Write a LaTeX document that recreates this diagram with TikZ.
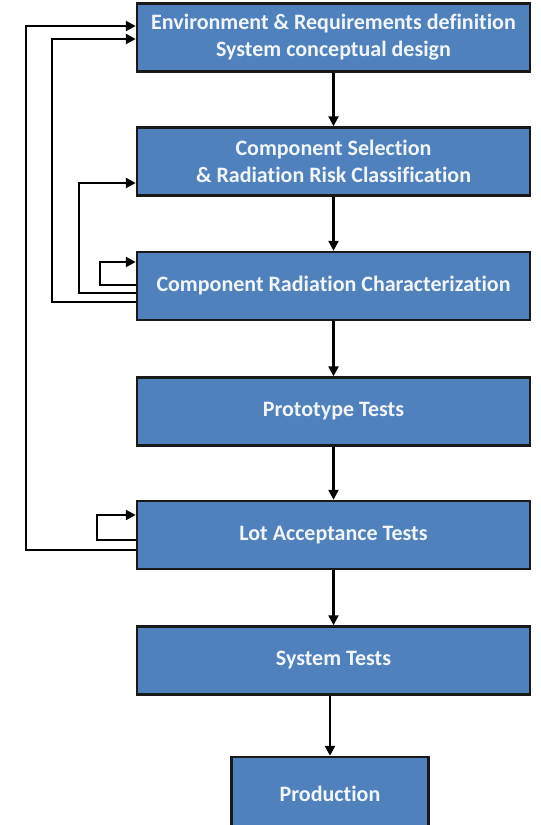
\documentclass[tikz,border=0pt]{standalone}
\usepackage{fontspec}
\setmainfont[Ligatures=NoCommon]{Carlito}
\usetikzlibrary{arrows.meta}
\definecolor{boxblue}{HTML}{4F81BD}
\definecolor{boxtext}{HTML}{F2F6FC}
\tikzset{
  stagebox/.style={draw=black!90, fill=boxblue, line width=2.5pt,
    minimum width=393pt, minimum height=68pt, inner sep=0pt,
    text=boxtext, align=center,
    font=\bfseries\fontsize{22}{27}\selectfont},
  flow/.style={line width=2.4pt, draw=black,
    -{Triangle[length=10pt,width=10pt]}},
}
\begin{document}
\begin{tikzpicture}[x=1pt,y=-1pt]
  \useasboundingbox (0,0) rectangle (541,825);
  \clip (0,0) rectangle (541,825);

  % process stages
  \node[stagebox] (b1) at (333.5,37.5) {Environment \& Requirements definition\\System conceptual design};
  \node[stagebox] (b2) at (333.5,161.5) {Component Selection\\\& Radiation Risk Classification};
  \node[stagebox] (b3) at (333.5,286) {Component Radiation Characterization};
  \node[stagebox] (b4) at (333.5,411.5) {Prototype Tests};
  \node[stagebox] (b5) at (333.5,535) {Lot Acceptance Tests};
  \node[stagebox] (b6) at (333.5,660.5) {System Tests};
  \node[stagebox, minimum width=197pt, minimum height=74pt] (b7) at (330,794) {Production};

  % main flow
  \draw[flow] (b1.south) -- (b2.north);
  \draw[flow] (b2.south) -- (b3.north);
  \draw[flow] (b3.south) -- (b4.north);
  \draw[flow] (b4.south) -- (b5.north);
  \draw[flow] (b5.south) -- (b6.north);
  \draw[flow] (b6.south -| b7.north) -- (b7.north);

  % feedback loops on the left
  \draw[flow] ([yshift=-15pt]b5.west) -- ++(-110,0) |- ([yshift=11.5pt]b1.west);
  \draw[flow] ([yshift=-16pt]b3.west) -- ++(-84,0) |- ([yshift=-1.5pt]b1.west);
  \draw[flow] ([yshift=-7pt]b3.west) -- ++(-57,0) |- ([yshift=-21.5pt]b2.west);
  \draw[flow] ([yshift=1pt]b3.west) -- ++(-36,0) |- ([yshift=24pt]b3.west);
  \draw[flow] ([yshift=-5pt]b5.west) -- ++(-39,0) |- ([yshift=20pt]b5.west);
\end{tikzpicture}
\end{document}
